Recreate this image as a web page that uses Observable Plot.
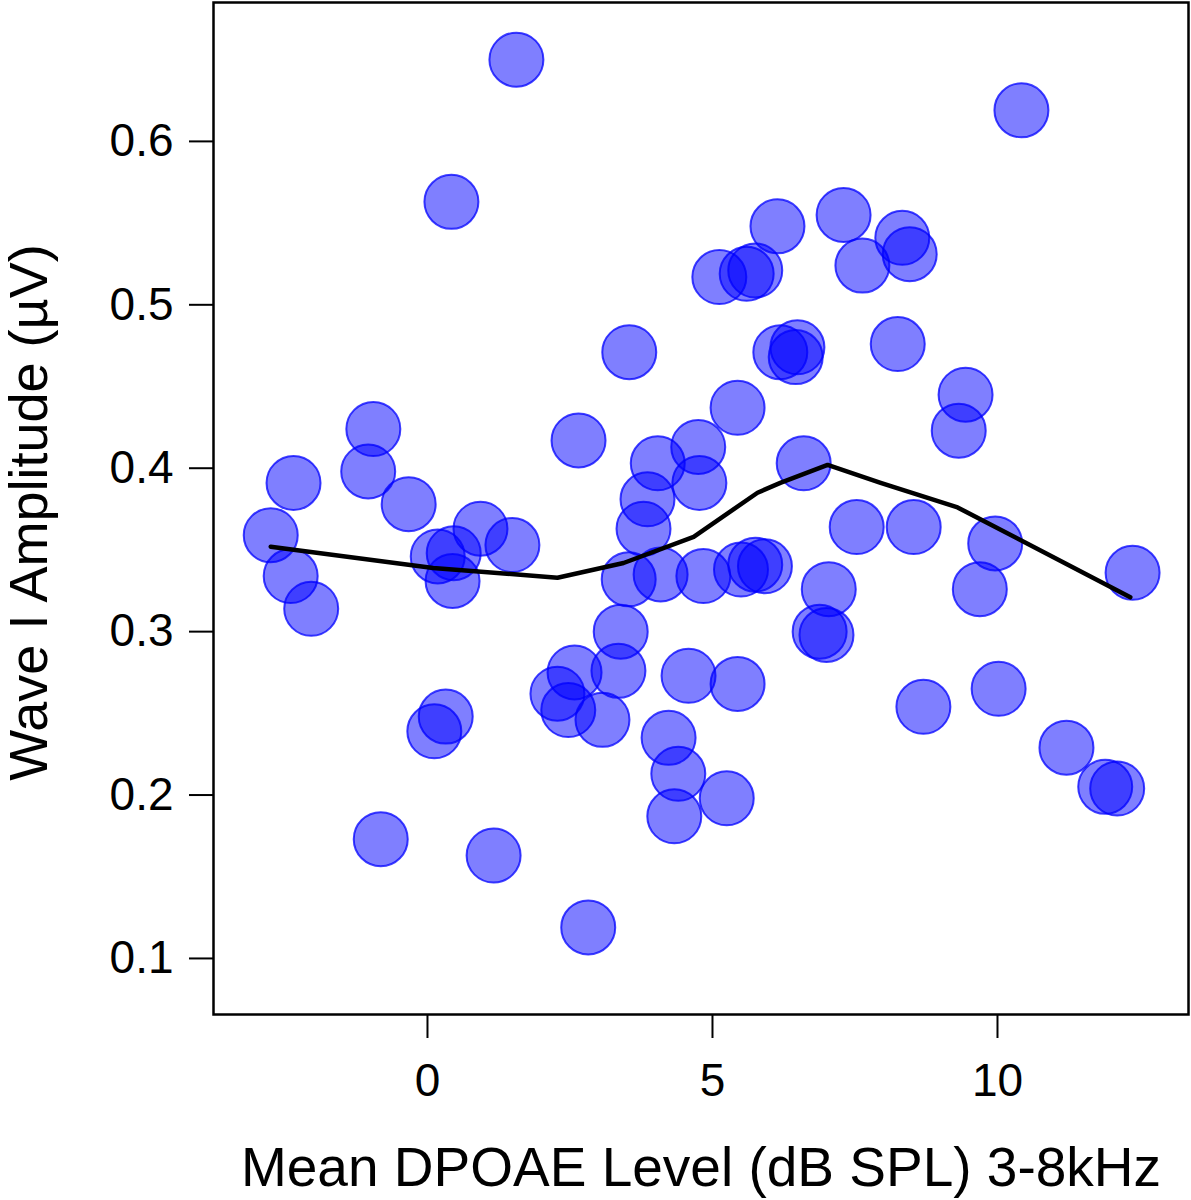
<!DOCTYPE html>
<html>
<head>
<meta charset="utf-8">
<script src="https://cdn.jsdelivr.net/npm/d3@7"></script>
<script src="https://cdn.jsdelivr.net/npm/@observablehq/plot@0.6"></script>
<style>
  html, body { margin: 0; padding: 0; background: #fff; }
</style>
</head>
<body>
<div id="chart"></div>
<script>
const dpoae = [1.56, 10.42, 0.42, 6.14, 7.30, 8.33, 8.46, 7.63, 5.12, 5.60, 5.75, 6.19, 6.49, 6.46, 8.25, 5.44, 3.54, 9.44, 9.32, 6.60,
  -0.95, -2.35, -1.04, -0.33, -2.75, -2.40, -2.04, 2.65, 0.93, 1.49, 0.18, 0.46, 0.44, 4.04, 4.75, 4.77, 3.86, 3.79, 7.53,
  3.53, 4.09, 4.84, 5.50, 5.75, 5.92, 7.04, 6.88, 7.00, 3.39, 3.35, 2.58, 2.28, 2.47, 3.07, 4.58, 5.44, 4.23, 4.40, 4.33, 5.25,
  0.32, 0.12, -0.82, 1.16, 2.82, 8.53, 9.96, 9.69, 12.37, 8.70, 10.02, 11.21, 11.89, 12.10];
const amplitude = [0.650, 0.619, 0.563, 0.548, 0.555, 0.541, 0.531, 0.524, 0.517, 0.519, 0.521, 0.471, 0.474, 0.468, 0.476, 0.437, 0.471, 0.445, 0.423, 0.403,
  0.424, 0.391, 0.398, 0.378, 0.359, 0.334, 0.314, 0.417, 0.363, 0.353, 0.346, 0.348, 0.331, 0.403, 0.413, 0.391, 0.381, 0.363, 0.364,
  0.332, 0.335, 0.334, 0.338, 0.341, 0.340, 0.326, 0.300, 0.298, 0.300, 0.276, 0.275, 0.262, 0.252, 0.246, 0.273, 0.268, 0.235, 0.213, 0.187, 0.198,
  0.248, 0.239, 0.173, 0.163, 0.119, 0.364, 0.354, 0.326, 0.336, 0.254, 0.265, 0.229, 0.205, 0.204];
const smoothX = [-2.75, 0.10, 2.28, 3.44, 4.67, 5.79, 6.19, 7.02, 7.95, 9.30, 10.46, 12.33];
const smoothY = [0.352, 0.339, 0.333, 0.342, 0.358, 0.385, 0.391, 0.402, 0.391, 0.376, 0.355, 0.321];
const xTicks = [0, 5, 10];
const yTicks = [0.1, 0.2, 0.3, 0.4, 0.5, 0.6];
const xTitle = "Mean DPOAE Level (dB SPL) 3-8kHz";
const yTitle = "Wave I Amplitude (µV)";

const points = dpoae.map((x, i) => ({x, y: amplitude[i]}));
const smooth = smoothX.map((x, i) => ({x, y: smoothY[i]}));

const chart = Plot.plot({
  width: 1191,
  height: 1200,
  marginLeft: 213,
  marginRight: 3,
  marginTop: 2,
  marginBottom: 186,
  style: {fontFamily: "'Liberation Sans', Arial, sans-serif", background: "#fff", color: "#000", overflow: "visible"},
  x: {domain: [-3.754, 13.351]},
  y: {domain: [0.0657, 0.685]},
  marks: [
    Plot.dot(points, {x: "x", y: "y", r: 27, fill: "blue", fillOpacity: 0.5, stroke: "blue", strokeOpacity: 0.75, strokeWidth: 2}),
    Plot.line(smooth, {x: "x", y: "y", stroke: "black", strokeWidth: 4.5}),
    Plot.frame({stroke: "black", strokeWidth: 2.5}),
    Plot.axisX({ticks: xTicks, tickSize: 24, tickPadding: 25, fontSize: 46, label: null, strokeWidth: 2, tickFormat: d3.format("d")}),
    Plot.axisY({ticks: yTicks, tickSize: 24, tickPadding: 16, fontSize: 46, label: null, strokeWidth: 2, tickFormat: d3.format(".1f")}),
    Plot.text([xTitle], {frameAnchor: "bottom", text: d => d, dy: 154, lineAnchor: "middle", textAnchor: "middle", fontSize: 55, fill: "black"}),
    Plot.text([yTitle], {frameAnchor: "left", text: d => d, dx: -184, dy: 4, rotate: -90, lineAnchor: "middle", textAnchor: "middle", fontSize: 54, fill: "black"})
  ]
});
document.getElementById("chart").appendChild(chart);
</script>
</body>
</html>
